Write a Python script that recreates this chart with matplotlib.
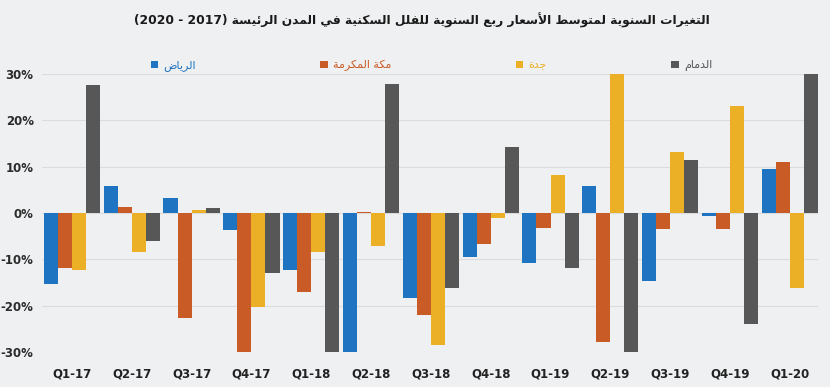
import re
import numpy as np
import matplotlib
matplotlib.use("Agg")
import matplotlib.pyplot as plt

quarters = ["Q1-17", "Q2-17", "Q3-17", "Q4-17", "Q1-18", "Q2-18", "Q3-18",
            "Q4-18", "Q1-19", "Q2-19", "Q3-19", "Q4-19", "Q1-20"]
riyadh = [-15.4, 5.9, 3.2, -3.7, -12.3, -30.0, -18.4, -9.6, -10.8, 5.8, -14.7, -0.6, 9.5]
makkah = [-11.8, 1.2, -22.7, -30.0, -17.0, 0.3, -22.1, -6.6, -3.2, -27.9, -3.5, -3.5, 10.9]
jeddah = [-12.3, -8.5, 0.7, -20.3, -8.5, -7.1, -28.5, -1.0, 8.1, 30.0, 13.1, 23.0, -16.2]
dammam = [27.6, -6.1, 1.1, -12.9, -30.0, 27.8, -16.2, 14.2, -11.8, -30.0, 11.5, -23.9, 30.0]
city_names = ["الرياض", "مكة المكرمة", "جدة", "الدمام"]
title = "التغيرات السنوية لمتوسط الأسعار ربع السنوية للفلل السكنية في المدن الرئيسة (2017 - 2020)"

colors = ["#1f74c1", "#c95b27", "#ebb026", "#575757"]
bg = "#eff0f2"

# arabic shaping by hand (no reshaper installed)
DUAL = {'ب': 0xFE8F, 'ت': 0xFE95, 'ث': 0xFE99, 'ج': 0xFE9D, 'ح': 0xFEA1, 'خ': 0xFEA5,
        'س': 0xFEB1, 'ش': 0xFEB5, 'ص': 0xFEB9, 'ض': 0xFEBD, 'ط': 0xFEC1, 'ظ': 0xFEC5,
        'ع': 0xFEC9, 'غ': 0xFECD, 'ف': 0xFED1, 'ق': 0xFED5, 'ك': 0xFED9, 'ل': 0xFEDD,
        'م': 0xFEE1, 'ن': 0xFEE5, 'ه': 0xFEE9, 'ي': 0xFEF1, 'ئ': 0xFE89}
RIGHT = {'ا': 0xFE8D, 'أ': 0xFE83, 'إ': 0xFE87, 'آ': 0xFE81, 'ة': 0xFE93, 'د': 0xFEA9,
         'ذ': 0xFEAB, 'ر': 0xFEAD, 'ز': 0xFEAF, 'و': 0xFEED, 'ى': 0xFEEF, 'ؤ': 0xFE85}
LAMALEF = {'ا': 0xFEFB, 'أ': 0xFEF7, 'إ': 0xFEF9, 'آ': 0xFEF5}


def shape(txt):
    out = []
    i = 0
    n = len(txt)
    while i < n:
        c = txt[i]
        jp = i > 0 and txt[i-1] in DUAL
        if c == 'ل' and i + 1 < n and txt[i+1] in LAMALEF:
            out.append(chr(LAMALEF[txt[i+1]] + (1 if jp else 0)))
            i += 2
            continue
        nxt = txt[i+1] if i + 1 < n else ''
        if c in DUAL:
            jn = nxt in DUAL or nxt in RIGHT
            k = 3 if (jp and jn) else 1 if jp else 2 if jn else 0
            out.append(chr(DUAL[c] + k))
        elif c in RIGHT:
            out.append(chr(RIGHT[c] + (1 if jp else 0)))
        else:
            out.append(c)
        i += 1
    return "".join(out)


def rtl(txt):
    s = shape(txt)[::-1]
    s = re.sub(r'\d+', lambda m: m.group(0)[::-1], s)
    return s.translate(str.maketrans('()', ')('))


fig = plt.figure(figsize=(8.3, 3.87), dpi=100, facecolor=bg)
ax = fig.add_axes([0.0506, 0.0904, 0.9349, 0.7186])
ax.set_facecolor(bg)

x = np.arange(len(quarters))
w = 0.235
series = [riyadh, makkah, jeddah, dammam]
bars = []
for k, vals in enumerate(series):
    b = ax.bar(x + (k - 1.5) * w, vals, w, color=colors[k], zorder=3, linewidth=0)
    bars.append(b)

ax.set_xlim(-0.5, 12.47)
ax.set_ylim(-30, 30)
ax.set_yticks([-30, -20, -10, 0, 10, 20, 30])
ax.set_yticklabels([f"{v}%" for v in [-30, -20, -10, 0, 10, 20, 30]],
                   family=["Liberation Sans Narrow", "DejaVu Sans"], fontsize=8.5,
                   color="#2b2b2b", fontweight="bold")
ax.set_xticks(x)
ax.set_xticklabels(quarters, fontsize=8.5, fontweight="bold", color="#222222",
                   family=["Liberation Sans Narrow", "DejaVu Sans"])
ax.tick_params(axis="both", length=0)
ax.tick_params(axis="x", pad=11)
ax.tick_params(axis="y", pad=6)
ax.grid(axis="y", color="#dadcde", linewidth=0.8, zorder=0)
for s in ax.spines.values():
    s.set_visible(False)

leg = ax.legend(bars, [rtl(n) for n in city_names], ncol=4, loc="lower center",
                bbox_to_anchor=(0.502, 0.99), frameon=False, fontsize=8,
                handlelength=0.65, handleheight=0.65, handletextpad=0.5,
                columnspacing=11.2, borderaxespad=0.1)
for t, c in zip(leg.get_texts(), colors):
    t.set_color(c)
    t.set_family("DejaVu Sans")

fig.text(0.508, 0.947, rtl(title), ha="center", va="center", fontsize=8.8,
         fontweight="bold", color="#1a1a1a", family="DejaVu Sans")

fig.savefig("out.png", dpi=100, facecolor=bg)
